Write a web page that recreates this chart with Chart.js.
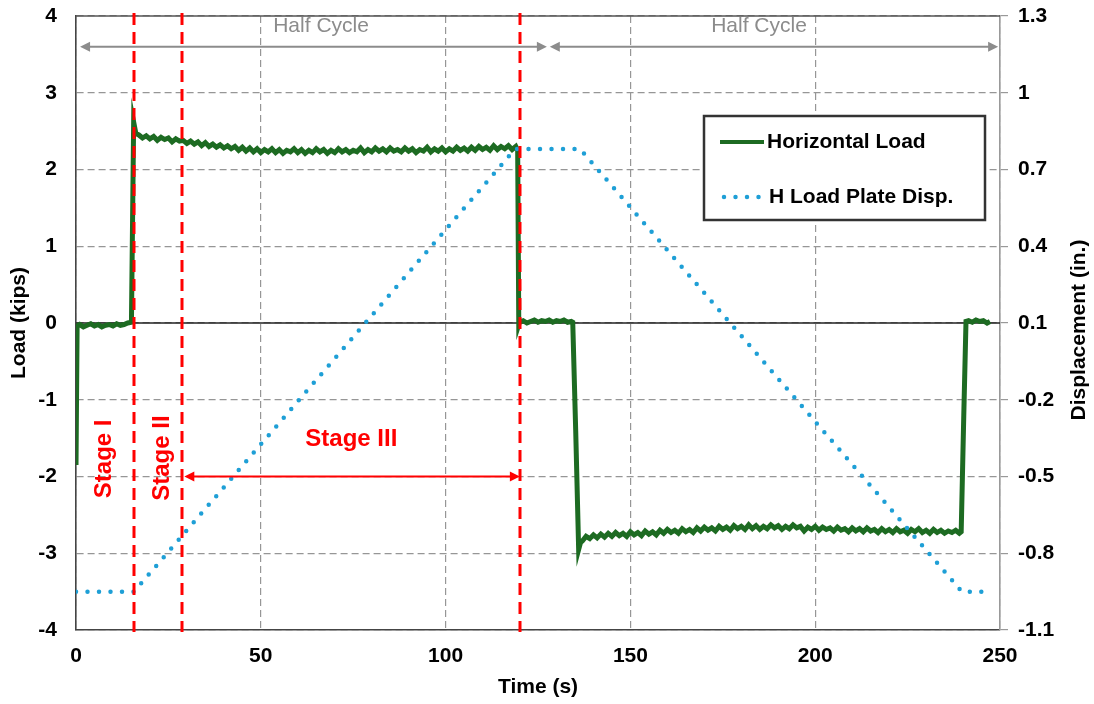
<!DOCTYPE html>
<html>
<head>
<meta charset="utf-8">
<script src="https://cdn.jsdelivr.net/npm/chart.js@4.4.1/dist/chart.umd.min.js"></script>
<style>
  body { margin: 0; background: #fff; }
  #wrap { width: 1094px; height: 704px; }
</style>
</head>
<body>
<div id="wrap"><canvas id="grafik" width="1094" height="704"></canvas></div>
<script>
// Data
const loadTimes = [
  0, 0.3, 1, 2, 3, 4, 5, 6, 7, 8, 9, 10, 11, 12, 13, 14, 15, 15.6, 16.2,
  17, 18, 19, 20, 21, 22, 23, 24, 25, 26,
  27, 28, 29, 30, 31, 32, 33, 34, 35, 36,
  37, 38, 39, 40, 41, 42, 43, 44, 45, 46,
  47, 48, 49, 50, 51, 52, 53, 54, 55, 56,
  57, 58, 59, 60, 61, 62, 63, 64, 65, 66,
  67, 68, 69, 70, 71, 72, 73, 74, 75, 76,
  77, 78, 79, 80, 81, 82, 83, 84, 85, 86,
  87, 88, 89, 90, 91, 92, 93, 94, 95, 96,
  97, 98, 99, 100, 101, 102, 103, 104, 105, 106,
  107, 108, 109, 110, 111, 112, 113, 114, 115, 116,
  117, 118, 119,
  119.5, 119.8,
  120, 121, 122, 123, 124, 125, 126, 127, 128, 129, 130, 131, 132, 133, 134,
  134.4, 135.2, 136, 136.5,
  137, 138, 139, 140, 141, 142, 143, 144, 145, 146,
  147, 148, 149, 150, 151, 152, 153, 154, 155, 156,
  157, 158, 159, 160, 161, 162, 163, 164, 165, 166,
  167, 168, 169, 170, 171, 172, 173, 174, 175, 176,
  177, 178, 179, 180, 181, 182, 183, 184, 185, 186,
  187, 188, 189, 190, 191, 192, 193, 194, 195, 196,
  197, 198, 199, 200, 201, 202, 203, 204, 205, 206,
  207, 208, 209, 210, 211, 212, 213, 214, 215, 216,
  217, 218, 219, 220, 221, 222, 223, 224, 225, 226,
  227, 228, 229, 230, 231, 232, 233, 234, 235, 236,
  237, 238, 239,
  239.5, 240.2, 240.8, 241.5, 242.5, 243.5, 244.5, 245.5, 246.5, 247.3
];
const loadValues = [
  -1.85, -0.04, -0.02, -0.05, -0.03, -0.01, -0.04, -0.02, -0.05, -0.03, -0.02, -0.04, -0.01, -0.03, -0.02, 0.0, 0.01, 2.62, 2.47,
  2.45, 2.41, 2.44, 2.40, 2.43, 2.38, 2.42, 2.39, 2.41, 2.36,
  2.40, 2.37, 2.38, 2.34, 2.37, 2.33, 2.36, 2.31, 2.35, 2.30,
  2.33, 2.29, 2.32, 2.28, 2.31, 2.27, 2.30, 2.25, 2.29, 2.24,
  2.28, 2.23, 2.27, 2.22, 2.26, 2.23, 2.27, 2.22, 2.26, 2.21,
  2.25, 2.23, 2.27, 2.22, 2.26, 2.21, 2.25, 2.22, 2.27, 2.23,
  2.26, 2.21, 2.25, 2.22, 2.27, 2.23, 2.26, 2.22, 2.25, 2.23,
  2.28, 2.22, 2.26, 2.23, 2.28, 2.24, 2.27, 2.23, 2.28, 2.24,
  2.26, 2.23, 2.28, 2.24, 2.27, 2.22, 2.26, 2.24, 2.29, 2.23,
  2.27, 2.24, 2.28, 2.23, 2.27, 2.24, 2.29, 2.25, 2.28, 2.24,
  2.29, 2.25, 2.30, 2.26, 2.29, 2.25, 2.31, 2.26, 2.30, 2.27,
  2.31, 2.26, 2.30,
  2.25, -0.02,
  0.01, 0.03, 0.0, 0.02, 0.04, 0.01, 0.03, 0.02, 0.04, 0.01, 0.03, 0.02, 0.04, 0.01, 0.02,
  0.01, -1.4, -2.95, -2.86,
  -2.84, -2.78, -2.81, -2.76, -2.80, -2.75, -2.79, -2.74, -2.78, -2.73,
  -2.77, -2.74, -2.78, -2.72, -2.76, -2.73, -2.77, -2.71, -2.75, -2.72,
  -2.76, -2.70, -2.74, -2.69, -2.73, -2.70, -2.74, -2.68, -2.72, -2.69,
  -2.73, -2.67, -2.71, -2.66, -2.70, -2.67, -2.71, -2.65, -2.69, -2.66,
  -2.70, -2.64, -2.68, -2.65, -2.69, -2.63, -2.68, -2.64, -2.69, -2.65,
  -2.68, -2.63, -2.67, -2.64, -2.69, -2.65, -2.68, -2.63, -2.67, -2.65,
  -2.71, -2.66, -2.69, -2.65, -2.70, -2.66, -2.69, -2.67, -2.71, -2.66,
  -2.70, -2.68, -2.72, -2.67, -2.71, -2.68, -2.72, -2.67, -2.71, -2.69,
  -2.73, -2.68, -2.72, -2.69, -2.73, -2.68, -2.72, -2.70, -2.74, -2.69,
  -2.72, -2.68, -2.73, -2.70, -2.74, -2.69, -2.73, -2.70, -2.74, -2.71,
  -2.73, -2.70, -2.74,
  -2.72, -1.2, 0.02, 0.03, 0.01, 0.04, 0.02, 0.03, 0.0, 0.02
];

// Displacement pelat beban horizontal (in.)
const dispTimes = [0, 15.7, 118.8, 136.4, 239.7, 246.5];
const dispValues = [-0.95, -0.95, 0.78, 0.78, -0.95, -0.95];

// Tick dan anotasi
const timeTicks = [0, 50, 100, 150, 200, 250];
const loadTicks = [-4, -3, -2, -1, 0, 1, 2, 3, 4];
const dispTicks = [-1.1, -0.8, -0.5, -0.2, 0.1, 0.4, 0.7, 1, 1.3];
const stageLines = [15.7, 28.6, 120.1];
const stageLabels = ["Stage I", "Stage II", "Stage III"];
const stageLabelX = [7.8, 23.3, 74.5];
const stageLabelY = [-1.77, -1.76, -1.52];
const stage3Arrow = [29.3, 120.1, -2];
const halfCycleArrows = [[1.1, 127.4], [128.2, 249.5]];
const halfCycleTextX = [66.3, 184.8];
const halfCycleY = 3.6;
const halfCycleTextY = 3.87;

const FONT = "'Liberation Sans', Arial, sans-serif";
const GREEN = "#1d6b22";
const BLUE = "#1e9fd6";
const RED = "#ff0000";
const GRAY = "#8c8c8c";

function arrowHead(ctx, x, y, dir, len, half) {
  ctx.beginPath();
  ctx.moveTo(x, y);
  ctx.lineTo(x - dir * len, y - half);
  ctx.lineTo(x - dir * len, y + half);
  ctx.closePath();
  ctx.fill();
}

function doubleArrow(ctx, x1, x2, y, color, width, len, half) {
  ctx.save();
  ctx.strokeStyle = color;
  ctx.fillStyle = color;
  ctx.lineWidth = width;
  ctx.beginPath();
  ctx.moveTo(x1 + len - 1, y);
  ctx.lineTo(x2 - len + 1, y);
  ctx.stroke();
  arrowHead(ctx, x1, y, -1, len, half);
  arrowHead(ctx, x2, y, 1, len, half);
  ctx.restore();
}

// Skala tanpa padding tambahan supaya area plot pas
function tanpaPadding(s) {
  s.paddingTop = 0;
  s.paddingBottom = 0;
  s.paddingLeft = 0;
  s.paddingRight = 0;
}

const anotasi = {
  id: "anotasi",
  beforeDatasetsDraw(chart) {
    const { ctx, chartArea: a, scales } = chart;
    const y0 = scales.y.getPixelForValue(0);
    ctx.save();
    ctx.strokeStyle = "#222";
    ctx.lineWidth = 1.6;
    ctx.beginPath();
    ctx.moveTo(a.left, y0);
    ctx.lineTo(a.right, y0);
    ctx.stroke();
    ctx.restore();
  },
  afterDatasetsDraw(chart) {
    const { ctx, chartArea: a, scales } = chart;
    const sx = scales.x, sy = scales.y;

    // garis atas
    ctx.save();
    ctx.strokeStyle = "#555";
    ctx.lineWidth = 1.5;
    ctx.beginPath();
    ctx.moveTo(a.left, a.top);
    ctx.lineTo(a.right, a.top);
    ctx.stroke();
    ctx.restore();

    // Half Cycle
    halfCycleArrows.forEach(([t1, t2]) => {
      doubleArrow(ctx, sx.getPixelForValue(t1), sx.getPixelForValue(t2),
        sy.getPixelForValue(halfCycleY), GRAY, 2, 10, 5);
    });
    ctx.save();
    ctx.fillStyle = GRAY;
    ctx.font = "21px " + FONT;
    ctx.textAlign = "center";
    ctx.textBaseline = "middle";
    halfCycleTextX.forEach(t => {
      ctx.fillText("Half Cycle", sx.getPixelForValue(t), sy.getPixelForValue(halfCycleTextY));
    });
    ctx.restore();

    // garis tahap
    ctx.save();
    ctx.strokeStyle = RED;
    ctx.lineWidth = 3;
    ctx.setLineDash([12, 7]);
    stageLines.forEach(t => {
      const x = Math.round(sx.getPixelForValue(t));
      ctx.beginPath();
      ctx.moveTo(x, a.top - 3);
      ctx.lineTo(x, a.bottom + 2);
      ctx.stroke();
    });
    ctx.restore();

    // label tahap
    ctx.save();
    ctx.fillStyle = RED;
    ctx.font = "bold 24px " + FONT;
    ctx.textAlign = "center";
    ctx.textBaseline = "middle";
    stageLabels.forEach((lbl, i) => {
      const x = sx.getPixelForValue(stageLabelX[i]);
      const y = sy.getPixelForValue(stageLabelY[i]);
      if (i < 2) {
        ctx.save();
        ctx.translate(x, y);
        ctx.rotate(-Math.PI / 2);
        ctx.fillText(lbl, 0, 0);
        ctx.restore();
      } else {
        ctx.fillText(lbl, x, y);
      }
    });
    ctx.restore();
    doubleArrow(ctx, sx.getPixelForValue(stage3Arrow[0]), sx.getPixelForValue(stage3Arrow[1]),
      sy.getPixelForValue(stage3Arrow[2]), RED, 1.8, 10, 5);

    // legenda
    const bx = 704, by = 116, bw = 281, bh = 104;
    ctx.save();
    ctx.fillStyle = "#fff";
    ctx.fillRect(bx, by, bw, bh);
    ctx.strokeStyle = "#333";
    ctx.lineWidth = 2.5;
    ctx.strokeRect(bx, by, bw, bh);
    const ds = chart.data.datasets;
    ctx.lineWidth = 4;
    ctx.strokeStyle = ds[0].borderColor;
    ctx.beginPath();
    ctx.moveTo(720, 142);
    ctx.lineTo(764, 142);
    ctx.stroke();
    ctx.strokeStyle = ds[1].borderColor;
    ctx.lineWidth = 4.5;
    ctx.lineCap = "round";
    ctx.setLineDash([0, 11.5]);
    ctx.beginPath();
    ctx.moveTo(724, 197);
    ctx.lineTo(764, 197);
    ctx.stroke();
    ctx.setLineDash([]);
    ctx.fillStyle = "#000";
    ctx.font = "bold 21px " + FONT;
    ctx.textBaseline = "middle";
    ctx.fillText(ds[0].label, 767, 142);
    ctx.fillText(ds[1].label, 769, 197);
    ctx.restore();

    // judul sumbu kanan (dibaca dari bawah ke atas)
    ctx.save();
    ctx.fillStyle = "#000";
    ctx.font = "bold 21px " + FONT;
    ctx.textAlign = "center";
    ctx.textBaseline = "middle";
    ctx.translate(1079, 330);
    ctx.rotate(-Math.PI / 2);
    ctx.fillText("Displacement (in.)", 0, 0);
    ctx.restore();
  }
};

const tickFont = { family: FONT, size: 21, weight: "bold" };
const titleFont = { family: FONT, size: 21, weight: "bold" };
const gridStyle = { color: "#969696", lineWidth: 1.2, drawTicks: false };

new Chart(document.getElementById("grafik").getContext("2d"), {
  type: "line",
  data: {
    datasets: [
      {
        label: "Horizontal Load",
        data: loadTimes.map((t, i) => ({ x: t, y: loadValues[i] })),
        borderColor: GREEN,
        borderWidth: 5,
        pointRadius: 0,
        yAxisID: "y",
        order: 2
      },
      {
        label: "H Load Plate Disp.",
        data: dispTimes.map((t, i) => ({ x: t, y: dispValues[i] })),
        borderColor: BLUE,
        borderWidth: 4.5,
        borderDash: [0, 11.5],
        borderCapStyle: "round",
        pointRadius: 0,
        yAxisID: "y2",
        order: 1
      }
    ]
  },
  options: {
    responsive: false,
    animation: false,
    layout: { padding: { top: 16, left: 0, right: 0, bottom: 0 } },
    plugins: { legend: { display: false }, tooltip: { enabled: false } },
    scales: {
      x: {
        type: "linear",
        min: 0, max: 250,
        afterBuildTicks: s => { s.ticks = timeTicks.map(v => ({ value: v })); },
        afterFit: s => { s.height = 74; tanpaPadding(s); },
        grid: gridStyle,
        border: { color: "#444", width: 1.6, dash: [7, 4] },
        ticks: { color: "#000", font: tickFont, padding: 14, maxRotation: 0 },
        title: { display: true, text: "Time (s)", color: "#000", font: titleFont, padding: { bottom: 4 } }
      },
      y: {
        position: "left",
        min: -4, max: 4,
        afterBuildTicks: s => { s.ticks = loadTicks.map(v => ({ value: v })); },
        afterFit: s => { s.width = 76; tanpaPadding(s); },
        grid: gridStyle,
        border: { color: "#444", width: 1.6, dash: [7, 4] },
        ticks: { color: "#000", font: tickFont, padding: 19, callback: v => String(v) },
        title: { display: true, text: "Load (kips)", color: "#000", font: titleFont, padding: { top: 7 } }
      },
      y2: {
        position: "right",
        min: -1.1, max: 1.3,
        afterBuildTicks: s => { s.ticks = dispTicks.map(v => ({ value: v })); },
        afterFit: s => { s.width = 94; tanpaPadding(s); },
        grid: { drawOnChartArea: false, drawTicks: true, tickLength: 8, color: "#999", lineWidth: 1.2 },
        border: { color: "#999", width: 1.6 },
        ticks: { color: "#000", font: tickFont, padding: 10, callback: v => String(Math.round(v * 10) / 10) },
        title: { display: false }
      }
    }
  },
  plugins: [anotasi]
});
</script>
</body>
</html>
